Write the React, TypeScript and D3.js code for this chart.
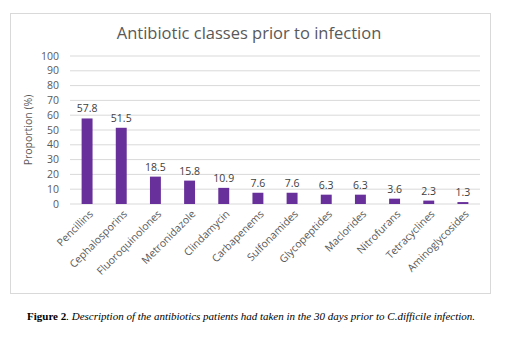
import React from "react";
import * as d3 from "d3";

const categories = ["Pencillins","Cephalosporins","Fluoroquinolones","Metronidazole","Clindamycin","Carbapenems","Sulfonamides","Glycopeptides","Maclorides","Nitrofurans","Tetracyclines","Aminoglycosides"];
const values = [57.8,51.5,18.5,15.8,10.9,7.6,7.6,6.3,6.3,3.6,2.3,1.3];
const yTicks = [0,10,20,30,40,50,60,70,80,90,100];
const title = "Antibiotic classes prior to infection";
const yTitle = "Proportion (%)";

export default function App() {
  const W = 507, H = 337;
  const x = d3.scaleBand<string>().domain(categories).range([70, 480]).paddingInner(0.68).paddingOuter(0.34);
  const y = d3.scaleLinear().domain([0, 100]).range([204, 56]);
  const font = "'Open Sans', Arial, sans-serif";
  return (
    <svg width={W} height={H} style={{ position: "absolute", left: 0, top: 0, background: "#fff" }} fontFamily={font}>
      <rect x={10.5} y={13.5} width={480} height={280} fill="#fff" stroke="#d9d9d9" />
      <text x={249} y={39} textAnchor="middle" fontSize={16.5} fill="#595959">{title}</text>
      {yTicks.map(t => (
        <g key={t}>
          <line x1={70} x2={480} y1={y(t)} y2={y(t)} stroke="#d9d9d9" strokeWidth={1} />
          <text x={59} y={y(t)} dy="0.35em" textAnchor="end" fontSize={10.5} fill="#595959">{t}</text>
        </g>
      ))}
      <text transform={`translate(32,${y(50)}) rotate(-90)`} textAnchor="middle" fontSize={10.5} fill="#595959">{yTitle}</text>
      {categories.map((c, i) => (
        <g key={c}>
          <rect x={x(c)} y={y(values[i])} width={x.bandwidth()} height={y(0) - y(values[i])} fill="#68309a" />
          <text x={(x(c) as number) + x.bandwidth() / 2} y={y(values[i]) - 6} textAnchor="middle" fontSize={10.5} fill="#404040">{values[i].toFixed(1)}</text>
          <text transform={`translate(${(x(c) as number) + x.bandwidth() / 2 + 4},${212}) rotate(-45)`} dy="0.35em" textAnchor="end" fontSize={10.5} fill="#595959">{c}</text>
        </g>
      ))}
      <text x={27} y={320} fontFamily="'Liberation Serif', 'Times New Roman', serif" fontSize={11} fill="#000">
        <tspan fontWeight="bold">Figure 2</tspan>
        <tspan fontStyle="italic">. Description of the antibiotics patients had taken in the 30 days prior to C.difficile infection.</tspan>
      </text>
    </svg>
  );
}
